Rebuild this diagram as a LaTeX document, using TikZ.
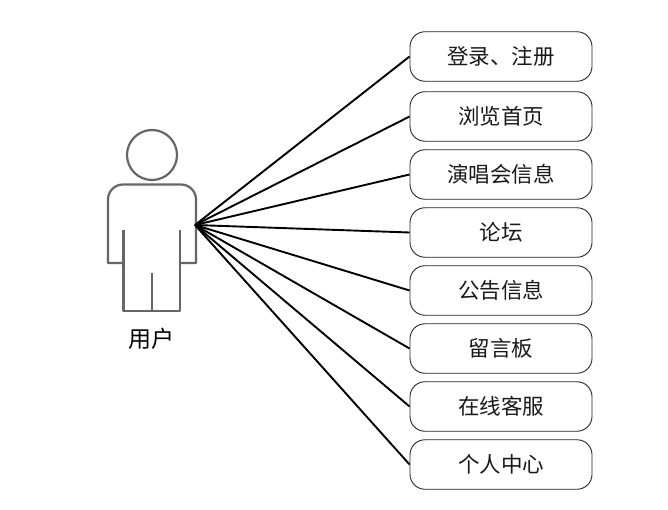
\documentclass[tikz,border=0pt]{standalone}
\usepackage{fontspec}
\setmainfont{Noto Sans CJK SC}
\tikzset{
  usecase/.style={draw=black!85,line width=0.9pt,rounded corners=15pt,minimum width=182pt,minimum height=49.5pt,inner sep=0pt,font=\fontsize{21.5}{24}\selectfont,text=black!90},
  link/.style={draw=black,line width=1.9pt},
  figureline/.style={draw=black!60,line width=2.2pt,line join=round},
}
\begin{document}
\begin{tikzpicture}[x=1pt,y=-1pt]
\useasboundingbox (0,0) rectangle (668,510);
\fill[white] (0,0) rectangle (668,510);
% actor
\node[figureline,circle,minimum size=50pt,inner sep=0pt] (head) at (152,155) {};
\draw[figureline] (123.5,263) -- (108,263) -- (108,230) [rounded corners=15pt] -- (108,184.5) -- (196,184.5) -- (196,230) [sharp corners] -- (196,263) -- (180,263);
\draw[figureline] (123.5,230) -- (123.5,311) -- (180,311) -- (180,230);
\draw[figureline] (152,273) -- (152,311);
\node[font=\fontsize{23}{26}\selectfont,text=black] (actorlabel) at (151,339) {用户};
\coordinate (hand) at (195,225);
% use cases
\node[usecase] (u1) at (501,56.5) {登录、注册};
\node[usecase] (u2) at (501,116.5) {浏览首页};
\node[usecase] (u3) at (501,174.5) {演唱会信息};
\node[usecase] (u4) at (501,232.5) {论坛};
\node[usecase] (u5) at (501,290.5) {公告信息};
\node[usecase] (u6) at (501,348.5) {留言板};
\node[usecase] (u7) at (501,406.5) {在线客服};
\node[usecase] (u8) at (501,464.5) {个人中心};
\foreach \n in {u1,u2,u3,u4,u5,u6,u7,u8}
  \draw[link] (hand) -- (\n.west);
\end{tikzpicture}
\end{document}
